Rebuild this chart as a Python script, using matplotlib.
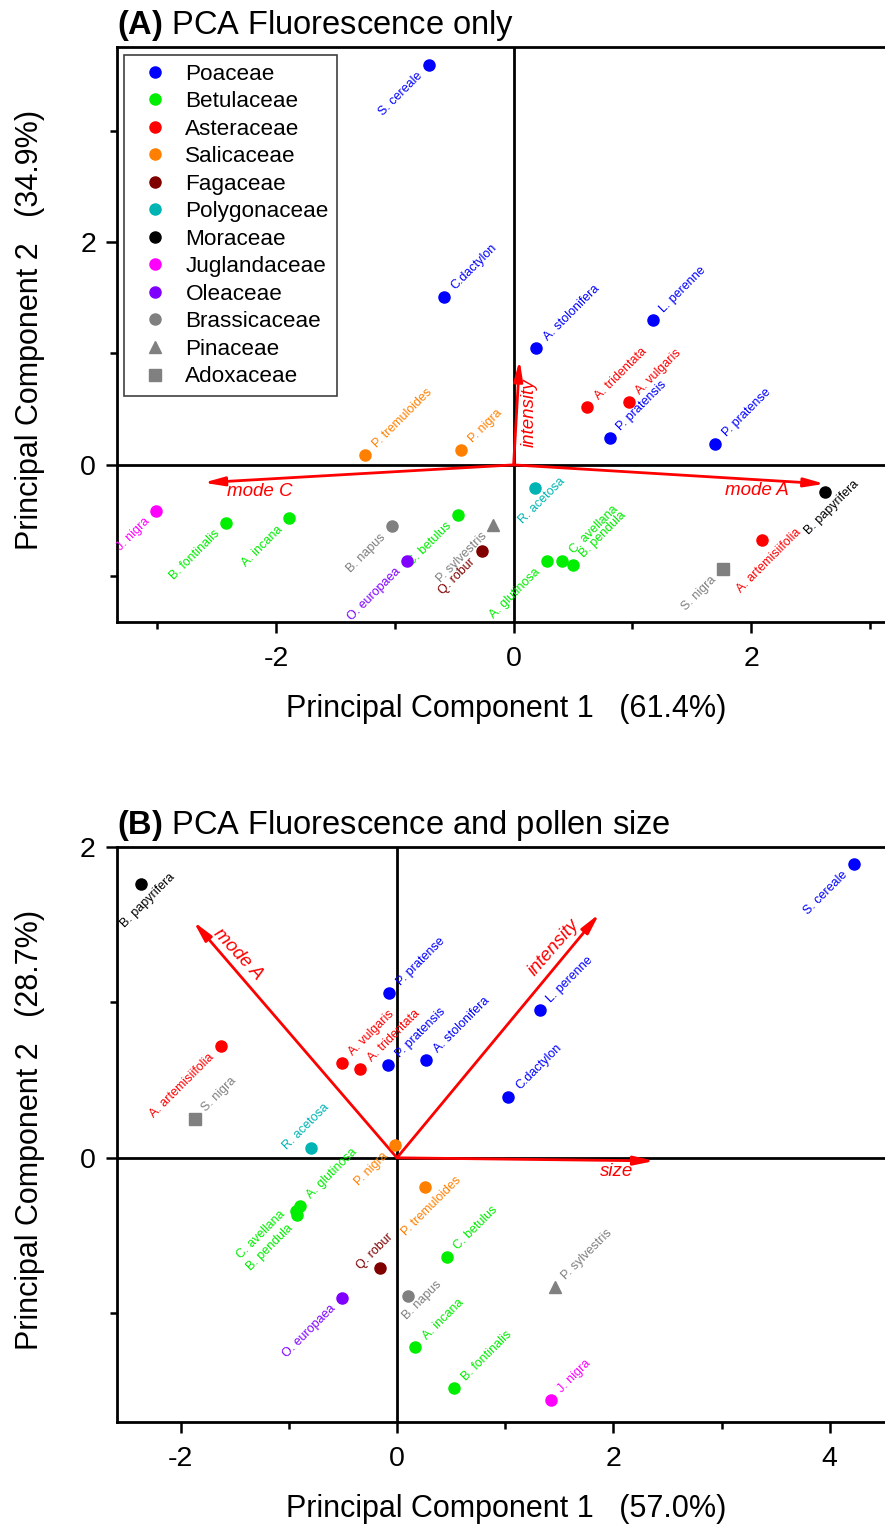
import numpy as np
import matplotlib
matplotlib.use("Agg")
import matplotlib.pyplot as plt
from matplotlib.lines import Line2D
from matplotlib.ticker import MultipleLocator

plt.rcParams["font.family"] = ["Liberation Sans", "DejaVu Sans"]
plt.rcParams["mathtext.fontset"] = "custom"
plt.rcParams["mathtext.rm"] = "Liberation Sans"
plt.rcParams["mathtext.bf"] = "Liberation Sans:bold"
plt.rcParams["axes.unicode_minus"] = False

# families shown in the legend
families = ["Poaceae", "Betulaceae", "Asteraceae", "Salicaceae", "Fagaceae",
            "Polygonaceae", "Moraceae", "Juglandaceae", "Oleaceae",
            "Brassicaceae", "Pinaceae", "Adoxaceae"]

species = ["S. cereale", "C.dactylon", "A. stolonifera", "L. perenne",
           "P. pratensis", "P. pratense", "A. tridentata", "A. vulgaris",
           "A. artemisiifolia", "B. papyrifera", "R. acetosa", "S. nigra",
           "A. glutinosa", "C. avellana", "B. pendula", "C. betulus",
           "A. incana", "B. fontinalis", "P. sylvestris", "Q. robur",
           "O. europaea", "B. napus", "P. tremuloides", "P. nigra", "J. nigra"]

species_family = ["Poaceae"] * 6 + ["Asteraceae"] * 3 + [
    "Moraceae", "Polygonaceae", "Adoxaceae"] + ["Betulaceae"] * 6 + [
    "Pinaceae", "Fagaceae", "Oleaceae", "Brassicaceae",
    "Salicaceae", "Salicaceae", "Juglandaceae"]

# panel A: fluorescence only
pc1_a = [-0.71, -0.59, 0.19, 1.17, 0.81, 1.70, 0.62, 0.97, 2.09, 2.62, 0.18,
         1.76, 0.28, 0.41, 0.50, -0.47, -1.89, -2.42, -0.17, -0.27, -0.90,
         -1.02, -1.25, -0.44, -3.01]
pc2_a = [3.59, 1.51, 1.05, 1.30, 0.24, 0.19, 0.52, 0.56, -0.67, -0.24, -0.21,
         -0.93, -0.86, -0.86, -0.90, -0.45, -0.48, -0.52, -0.54, -0.77, -0.86,
         -0.55, 0.09, 0.13, -0.41]
loading_names_a = ["intensity", "mode A", "mode C"]
loading_a = [(0.05, 0.94), (2.62, -0.17), (-2.61, -0.16)]

# panel B: fluorescence and pollen size
pc1_b = [4.22, 1.03, 0.27, 1.32, -0.08, -0.07, -0.34, -0.51, -1.63, -2.37,
         -0.79, -1.87, -0.90, -0.93, -0.92, 0.46, 0.17, 0.53, 1.46, -0.16,
         -0.51, 0.10, 0.26, -0.02, 1.42]
pc2_b = [1.89, 0.39, 0.63, 0.95, 0.60, 1.06, 0.57, 0.61, 0.72, 1.76, 0.06,
         0.25, -0.31, -0.34, -0.37, -0.64, -1.22, -1.48, -0.83, -0.71, -0.90,
         -0.89, -0.19, 0.08, -1.56]
loading_names_b = ["mode A", "intensity", "size"]
loading_b = [(-1.88, 1.52), (1.87, 1.57), (2.38, -0.02)]

colors = {"Poaceae": "#0000ff", "Betulaceae": "#00ee00",
          "Asteraceae": "#ff0000", "Salicaceae": "#ff8000",
          "Fagaceae": "#800000", "Polygonaceae": "#00b4b4",
          "Moraceae": "#000000", "Juglandaceae": "#ff00ff",
          "Oleaceae": "#8000ff", "Brassicaceae": "#808080",
          "Pinaceae": "#808080", "Adoxaceae": "#808080"}
markers = {f: "o" for f in families}
markers["Pinaceae"] = "^"
markers["Adoxaceae"] = "s"

# where each species label sits relative to its point
label_side_a = ["ll", "ur", "ur", "ur", "ur", "ur", "ur", "ur", "b", "b", "b",
                "ll", "ll", "ur", "ur", "ll", "ll", "ll", "ll", "ll", "ll",
                "ll", "ur", "ur", "ll"]
label_side_b = ["ll", "ur", "ur", "ur", "ur", "ur", "ur", "ur", "ll", "b", "a",
                "ur", "ur", "lm", "ld", "ur", "ur", "ur", "ur", "a", "ll",
                "r", "b", "ll", "ur"]
sides = {"ur": ("left", "bottom", 5, 5), "ll": ("right", "top", -4, -5),
         "lm": ("right", "top", -9, 2), "ld": ("right", "top", -2, -7),
         "b": ("center", "top", 7, 13), "a": ("center", "bottom", -5, -4),
         "r": ("left", "center", -7, -4)}


def draw_panel(ax, xs, ys, label_side, lnames, lvecs, lpos, lrot):
    ax.axhline(0, color="k", lw=2, zorder=1)
    ax.axvline(0, color="k", lw=2, zorder=1)
    for (u, v) in lvecs:
        ax.annotate("", xy=(u, v), xytext=(0, 0),
                    arrowprops=dict(arrowstyle="-|>,head_length=1.0,head_width=0.22",
                                    color="red", lw=2, shrinkA=0, shrinkB=0,
                                    mutation_scale=12), zorder=2)
    for name, (px, py), rot in zip(lnames, lpos, lrot):
        ax.text(px, py, name, color="red", fontsize=13.5, style="italic",
                rotation=rot, ha="center", va="center", rotation_mode="anchor")
    for name, x, y, fam, side in zip(species, xs, ys, species_family, label_side):
        c = colors[fam]
        ax.plot(x, y, marker=markers[fam], color=c, ms=8, ls="none", zorder=3)
        ha, va, dx, dy = sides[side]
        ax.annotate(name, (x, y), xytext=(dx, dy), textcoords="offset pixels",
                    rotation=45, ha=ha, va=va, fontsize=9, color=c)
    for s in ["left", "bottom", "top"]:
        ax.spines[s].set_linewidth(2)
    ax.spines["right"].set_visible(False)
    ax.tick_params(which="major", direction="out", length=8, width=1.8,
                   labelsize=20.5)
    ax.tick_params(which="minor", direction="out", length=5, width=1.8)
    ax.tick_params(axis="x", which="major", pad=9)
    ax.tick_params(axis="y", which="major", pad=7)
    ax.xaxis.set_major_locator(MultipleLocator(2))
    ax.xaxis.set_minor_locator(MultipleLocator(1))
    ax.yaxis.set_major_locator(MultipleLocator(2))
    ax.yaxis.set_minor_locator(MultipleLocator(1))


fig = plt.figure(figsize=(8.85, 15.26), dpi=100)
W, H = 885.0, 1526.0

axA = fig.add_axes([117 / W, 1 - 622 / H, 776.6 / W, 575 / H])
axA.set_xlim(-3.34, 3.2)
axA.set_ylim(-1.41, 3.75)
draw_panel(axA, pc1_a, pc2_a, label_side_a, loading_names_a, loading_a,
           [(0.13, 0.47), (2.05, -0.23), (-2.14, -0.24)], [90, 0, 0])

handles = [Line2D([], [], marker=markers[f], color=colors[f], ls="none", ms=8)
           for f in families]
leg = axA.legend(handles, families, loc="upper left",
                 bbox_to_anchor=(0.009, 0.986), borderaxespad=0,
                 fontsize=16.2, labelspacing=0.29, handlelength=2.0,
                 handletextpad=0.35, borderpad=0.38, fancybox=False,
                 edgecolor="#404040", framealpha=1)
leg.get_frame().set_linewidth(1.2)

axB = fig.add_axes([116.7 / W, 1 - 1422 / H, 778 / W, 575 / H])
axB.set_xlim(-2.59, 4.6)
axB.set_ylim(-1.70, 2.0)
draw_panel(axB, pc1_b, pc2_b, label_side_b, loading_names_b, loading_b,
           [(-1.47, 1.31), (1.445, 1.35), (2.03, -0.09)], [-47, 49, 0])

fig.text(117 / W, 1 - 34 / H, r"$\mathbf{(A)}$ PCA Fluorescence only",
         fontsize=23.5, va="baseline", ha="left")
fig.text(117 / W, 1 - 834 / H,
         r"$\mathbf{(B)}$ PCA Fluorescence and pollen size",
         fontsize=23.5, va="baseline", ha="left")

fig.text(506 / W, 1 - 717 / H, "Principal Component 1   (61.4%)",
         fontsize=22, ha="center", va="baseline")
fig.text(506 / W, 1 - 1517 / H, "Principal Component 1   (57.0%)",
         fontsize=22, ha="center", va="baseline")
fig.text(30 / W, 1 - 330 / H, "Principal Component 2   (34.9%)",
         fontsize=22, ha="center", va="center", rotation=90)
fig.text(30 / W, 1 - 1130 / H, "Principal Component 2   (28.7%)",
         fontsize=22, ha="center", va="center", rotation=90)

fig.savefig("out.png", dpi=100)
